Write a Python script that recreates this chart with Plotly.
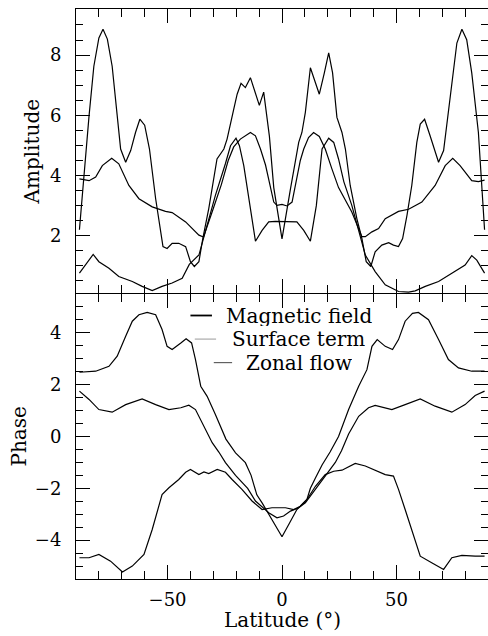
import plotly.graph_objects as go

# ---------------- data ----------------
# Top panel: amplitude
amp_mag_lat = [-88.5, -86.4, -84.3, -82.2, -80, -78.2, -76.3, -74.2, -72.3, -70.5, -68.3, -66.1, -64, -62.1, -60,
               -57.9, -55.2, -53.8, -52, -50.2, -48, -45.1, -42.1, -40, -38.3, -36.3, -34.6, -32, -29.5, -28.4,
               -25.4, -24, -21.1, -19.6, -17.9, -16, -13.8, -11.9, -9.9, -8, -6.4, -5.5, -3.6, 0, 3.7, 5.8,
               7.3, 8.7, 10.2, 12.4, 14.6, 16.3, 18.5, 20.4, 22.1, 24, 26.2, 27.7, 29.8, 32.7, 34.9, 36.8, 38.8,
               40.7, 43.6, 46.6, 48.7, 50.9, 52.7, 54.6, 56.7, 58.9, 60.4, 62.3, 64.7, 68.4, 70.6, 73.5, 76.4,
               78.6, 80.7, 82.9, 85.8, 88.5]
amp_mag = [2.2, 4.2, 5.98, 7.63, 8.57, 8.86, 8.53, 7.63, 6.2, 4.88, 4.44, 4.83, 5.43, 5.87, 5.67,
           4.88, 3.23, 2.57, 1.64, 1.58, 1.75, 1.75, 1.64, 1.14, 0.98, 1.14, 1.91, 2.9, 4.1, 4.55,
           4.88, 5.21, 6.2, 6.7, 7.06, 6.92, 7.25, 6.81, 6.33, 6.77, 5.87, 5.3, 3.6, 1.9, 3.56, 4.5,
           5.1, 5.43, 6.1, 7.58, 7.08, 6.7, 7.41, 8.07, 7.41, 5.93, 5.43, 4.88, 3.67, 2.57, 1.91, 1.14, 0.98,
           1.47, 1.69, 1.77, 1.69, 1.64, 1.91, 2.68, 3.67, 5.1, 5.71, 5.87, 5.32, 4.44, 4.83, 6.53, 8.4,
           8.86, 8.51, 7.41, 5.43, 2.2]

amp_surf_lat = [-88.5, -84.3, -81.4, -78.5, -74.4, -71.3, -66.9, -62.5, -56.7, -50.9, -48, -42.1, -36.3, -34.3,
                -30.5, -26.5, -23.5, -21.1, -18.2, -13.8, -11.6, -9.4, -7.2, -3.6, -2.2, 0, 2.2, 4.4, 8, 9.5,
                11.6, 13.8, 16.3, 18.9, 21.8, 24.7, 30.5, 34.9, 36.4, 39.3, 42.2, 45.1, 50.9, 55.3, 61.1,
                66.9, 71.3, 74.6, 77.8, 82.9, 85.8, 88.5]
amp_surf = [3.89, 3.83, 3.95, 4.33, 4.57, 4.39, 3.67, 3.23, 2.96, 2.81, 2.77, 2.46, 2.02, 1.96,
            2.8, 3.7, 4.5, 4.95, 5.21, 5.43, 5.32, 4.88, 4.35, 3.12, 3.01, 3.04, 2.99, 3.12, 4.5, 4.88,
            5.26, 5.43, 5.3, 4.88, 4.22, 3.6, 2.79, 1.97, 1.97, 2.13, 2.24, 2.57, 2.81, 2.88, 3.12,
            3.67, 4.33, 4.57, 4.33, 3.83, 3.8, 3.85]

amp_zon_lat = [-88.5, -82.5, -80, -75.6, -71.3, -65.4, -61.1, -56.7, -52.4, -48, -43.6, -40.5, -36.3, -33.4,
               -29.1, -24.7, -22.5, -20.1, -18.6, -16.7, -14, -11.6, -8.7, -5.8, -2.9, 2.9, 6.5, 9.5, 12.4,
               15, 17.5, 20.4, 22.6, 24.7, 27, 30.5, 36.4, 40.7, 45.1, 50.9, 55.3, 58.2, 62.6, 68.4, 74.2,
               80, 82.9, 85.1, 88.5]
amp_zon = [0.76, 1.38, 1.14, 0.92, 0.65, 0.48, 0.32, 0.18, 0.32, 0.43, 0.59, 1.05, 1.36, 2.13,
           3.34, 4.4, 4.99, 5.24, 4.99, 4.33, 3.0, 1.82, 2.18, 2.46, 2.48, 2.46, 2.46, 2.18, 1.82,
           3.0, 4.88, 5.24, 5.1, 4.55, 3.8, 3.01, 1.36, 0.81, 0.37, 0.15, 0.13, 0.17, 0.32, 0.48, 0.76,
           1.03, 1.34, 1.19, 0.76]

# Bottom panel: phase
ph_mag_lat = [-88.5, -81.4, -75.6, -72, -68.3, -65.4, -62.5, -58.9, -55.2, -52.4, -50.2, -48, -44.2, -41.9,
              -39.5, -37.8, -35.5, -32.7, -29.1, -24.5, -20.3, -16, -13.5, -11, -8.7, -4.4, 0, 3.3, 6.5,
              10.9, 12.4, 14.6, 17.5, 21, 24.7, 29.1, 33.5, 37.1, 39.3, 41.6, 45.1, 48.3, 50.9, 53.8, 57,
              59.6, 64, 68.4, 72.7, 77.1, 82.9, 88.5]
ph_mag = [2.48, 2.52, 2.71, 3.1, 3.87, 4.45, 4.7, 4.79, 4.7, 4.13, 3.48, 3.36, 3.61, 3.77,
          3.61, 2.97, 1.94, 1.55, 0.85, -0.1, -0.63, -1.01, -1.5, -2.25, -2.56, -3.2, -3.87, -3.34, -2.82,
          -2.43, -2.0, -1.6, -1.1, -0.6, 0.0, 1.04, 1.94, 2.58, 3.48, 3.74, 3.48, 3.36, 3.74, 4.45, 4.75,
          4.79, 4.51, 3.74, 2.97, 2.65, 2.52, 2.52]

ph_surf_lat = [-88.5, -84.3, -80, -74.2, -68.3, -61.1, -55.2, -49.4, -44.2, -40.7, -37.8, -34.9, -30.5, -27.6,
               -24.7, -20.3, -15, -11.6, -5.8, -2.2, 0.7, 3.7, 7.3, 10.2, 14.6, 18.9, 23.3, 26, 29.1, 33.5,
               37.8, 40.7, 48, 53.8, 60.4, 66.9, 74.2, 80, 84.4, 88.5]
ph_surf = [1.75, 1.43, 1.04, 0.94, 1.23, 1.45, 1.23, 1.04, 1.11, 1.21, 1.04, 0.53, -0.24, -0.6,
           -1.01, -1.5, -2.0, -2.49, -2.94, -3.14, -3.07, -2.88, -2.75, -2.56, -2.04, -1.53, -1.0, -0.55, 0.1, 0.78,
           1.11, 1.2, 1.04, 1.23, 1.45, 1.17, 0.94, 1.23, 1.58, 1.75]

ph_zon_lat = [-88.5, -84.3, -80, -74.9, -69.7, -65.4, -60.3, -56.7, -52.4, -49.4, -45.1, -42.1, -40, -36.3,
              -34.1, -32, -28.3, -24.7, -21.8, -17.5, -13.1, -8.7, -4.4, 1.5, 5.1, 8, 10.9, 14.6, 18.9,
              22.6, 26.2, 32, 36.4, 42.2, 45.1, 48.7, 50.9, 53.8, 56.7, 60.4, 65.4, 70.6, 74.2, 78.6, 84.4, 88.5]
ph_zon = [-4.68, -4.68, -4.55, -4.81, -5.23, -5.0, -4.55, -3.59, -2.24, -1.98, -1.66, -1.38, -1.27, -1.47,
          -1.37, -1.43, -1.27, -1.38, -1.66, -2.04, -2.49, -2.82, -2.75, -2.75, -2.82, -2.69, -2.43, -1.92, -1.47,
          -1.34, -1.3, -1.04, -1.14, -1.34, -1.47, -1.53, -2.04, -2.82, -3.59, -4.62, -4.87, -5.13, -4.68, -4.59, -4.62, -4.62]

legend_names = ["Magnetic field", "Surface term", "Zonal flow"]

# ---------------- figure ----------------
FONT = "DejaVu Serif"
fig = go.Figure()
line = dict(color="black", width=1.2)

for lat, val, name in [(amp_mag_lat, amp_mag, legend_names[0]),
                       (amp_surf_lat, amp_surf, legend_names[1]),
                       (amp_zon_lat, amp_zon, legend_names[2])]:
    fig.add_trace(go.Scatter(x=lat, y=val, mode="lines", line=line, name=name,
                             xaxis="x2", yaxis="y2", showlegend=False))

for lat, val, name in [(ph_mag_lat, ph_mag, legend_names[0]),
                       (ph_surf_lat, ph_surf, legend_names[1]),
                       (ph_zon_lat, ph_zon, legend_names[2])]:
    fig.add_trace(go.Scatter(x=lat, y=val, mode="lines", line=line, name=name,
                             xaxis="x", yaxis="y", showlegend=False))

common = dict(showline=True, linecolor="black", linewidth=1, mirror="allticks",
              ticks="inside", ticklen=14, tickwidth=1, tickcolor="black",
              showgrid=False, zeroline=False,
              tickfont=dict(family=FONT, size=18, color="black"))

xcommon = dict(common, range=[-90, 90], tickmode="linear", tick0=0, dtick=50,
               minor=dict(ticks="inside", ticklen=8, tickwidth=1, tickcolor="black",
                          dtick=10, tick0=0, showgrid=False))

ymin = dict(ticks="inside", ticklen=7, tickwidth=1, tickcolor="black",
            dtick=0.5, tick0=0, showgrid=False)

fig.update_layout(
    width=488, height=636,
    margin=dict(l=76, r=0, t=9, b=57),
    paper_bgcolor="white", plot_bgcolor="white",
    showlegend=False,
    xaxis=dict(xcommon, anchor="y", domain=[0, 1], ticklabelstandoff=4),
    xaxis2=dict(xcommon, anchor="y2", matches="x", showticklabels=False),
    yaxis=dict(common, domain=[0, 0.5], range=[-5.5, 5.5], dtick=2, tick0=0,
               ticklabelstandoff=10, minor=ymin),
    yaxis2=dict(common, domain=[0.5 + 1 / 570, 1], range=[0.1, 9.53], dtick=2, tick0=0,
                ticklabelstandoff=10, minor=ymin),
)

tf = dict(family=FONT, size=20, color="black")
fig.add_annotation(text="Amplitude", xref="paper", yref="paper", x=(31 - 76) / 412, y=0.75,
                   textangle=-90, showarrow=False, font=tf, xanchor="center", yanchor="middle")
fig.add_annotation(text="Phase", xref="paper", yref="paper", x=(18 - 76) / 412, y=0.25,
                   textangle=-90, showarrow=False, font=tf, xanchor="center", yanchor="middle")
fig.add_annotation(text="Latitude (°)", xref="paper", yref="paper", x=0.5, y=-41 / 570,
                   showarrow=False, font=tf, xanchor="center", yanchor="middle")

# legend (centred text with short line samples)
leg_y = [4.67, 3.76, 2.85]
leg_line_x = [(-40, -30.6), (-38.1, -28.8), (-29.8, -21.8)]
leg_style = [dict(color="black", width=1.8), dict(color="#999999", width=1), dict(color="#444444", width=1)]
for name, yy, (x0, x1), st in zip(legend_names, leg_y, leg_line_x, leg_style):
    fig.add_annotation(text=name, xref="x", yref="y", x=7.3, y=yy, showarrow=False,
                       font=dict(family=FONT, size=20, color="black"), height=20,
                       xanchor="center", yanchor="middle")
    fig.add_shape(type="line", xref="x", yref="y", x0=x0, x1=x1, y0=yy, y1=yy, line=st)

fig.write_html("out.html")
